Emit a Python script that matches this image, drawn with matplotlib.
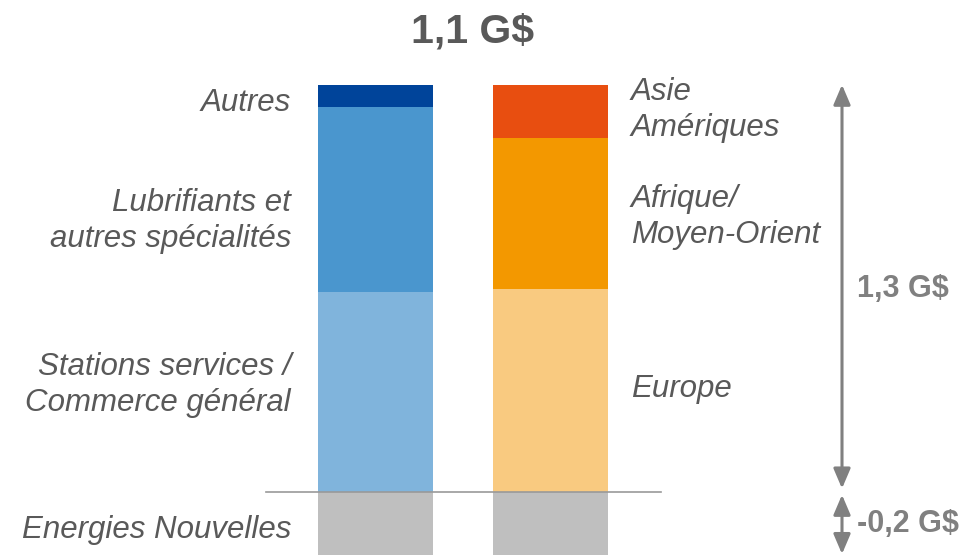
import numpy as np
import matplotlib.pyplot as plt

# ============================================
# 1. DATA (G$)
# ============================================
segments_left = ['Energies Nouvelles', 'Stations services /\nCommerce général',
                 'Lubrifiants et\nautres spécialités', 'Autres']
values_left = [-0.2, 0.64, 0.59, 0.07]

segments_right = ['Energies Nouvelles', 'Europe', 'Afrique/\nMoyen-Orient', 'Asie\nAmériques']
values_right = [-0.2, 0.65, 0.48, 0.17]

title_label = '1,1 G$'
positive_label = '1,3 G$'
negative_label = '-0,2 G$'

# ============================================
# 2. STYLE
# ============================================
colors_left = ['#bfbfbf', '#80b4dc', '#4a96ce', '#00449a']
colors_right = ['#bfbfbf', '#f9ca80', '#f39800', '#e84e10']
text_grey = '#595959'
arrow_grey = '#808080'

plt.rcParams['font.family'] = ['Liberation Sans', 'DejaVu Sans']

fig = plt.figure(figsize=(9.78, 5.56), dpi=100)
ax = fig.add_axes([0, 0, 1, 1])
ax.set_xlim(0, 978)
ax.set_ylim(-0.2032, 1.5703)
ax.axis('off')

x_left, x_right, bar_w = 375, 550, 115

def stack(x, values, colors):
    pos_bottom = 0.0
    for v, c in zip(values, colors):
        if v < 0:
            ax.bar(x, v, bottom=0, width=bar_w, color=c, edgecolor='none')
        else:
            ax.bar(x, v, bottom=pos_bottom, width=bar_w, color=c, edgecolor='none')
            pos_bottom += v

stack(x_left, values_left, colors_left)
stack(x_right, values_right, colors_right)

# baseline
ax.plot([266, 661], [0, 0], color='#999999', lw=1.2, zorder=5)

# ============================================
# 3. LABELS
# ============================================
label_y_left = [-0.12, 0.343, 0.865, 1.241]
label_y_right = [0.33, 0.878, 1.22]
fs = 22.5

for lab, y in zip(segments_left, label_y_left):
    ax.text(291, y, lab, ha='right', va='center', fontsize=fs, style='italic',
            color=text_grey, linespacing=1.25)

for lab, y in zip(segments_right[1:], label_y_right):
    ax.text(631, y, lab, ha='left', va='center', fontsize=fs, style='italic',
            color=text_grey, linespacing=1.25)

total_pos = sum(v for v in values_left if v > 0)
total_neg = sum(v for v in values_left if v < 0)

ax.text(473, 1.47, title_label, ha='center', va='center', fontsize=29.5,
        fontweight='bold', color=text_grey)

# arrows
x_arr = 842
head = '<|-|>,head_length=0.75,head_width=0.32'
ax.annotate('', xy=(x_arr, total_pos), xytext=(x_arr, 0.012),
            arrowprops=dict(arrowstyle=head, color=arrow_grey, lw=2.2,
                            mutation_scale=16, shrinkA=0, shrinkB=0))
ax.annotate('', xy=(x_arr, -0.008), xytext=(x_arr, total_neg + 0.003),
            arrowprops=dict(arrowstyle=head, color=arrow_grey, lw=2.2,
                            mutation_scale=16, shrinkA=0, shrinkB=0))

ax.text(857, total_pos / 2, positive_label, ha='left', va='center', fontsize=22,
        fontweight='bold', color=arrow_grey)
ax.text(857, total_neg / 2, negative_label, ha='left', va='center', fontsize=22,
        fontweight='bold', color=arrow_grey)

plt.savefig('out.png', dpi=100)
